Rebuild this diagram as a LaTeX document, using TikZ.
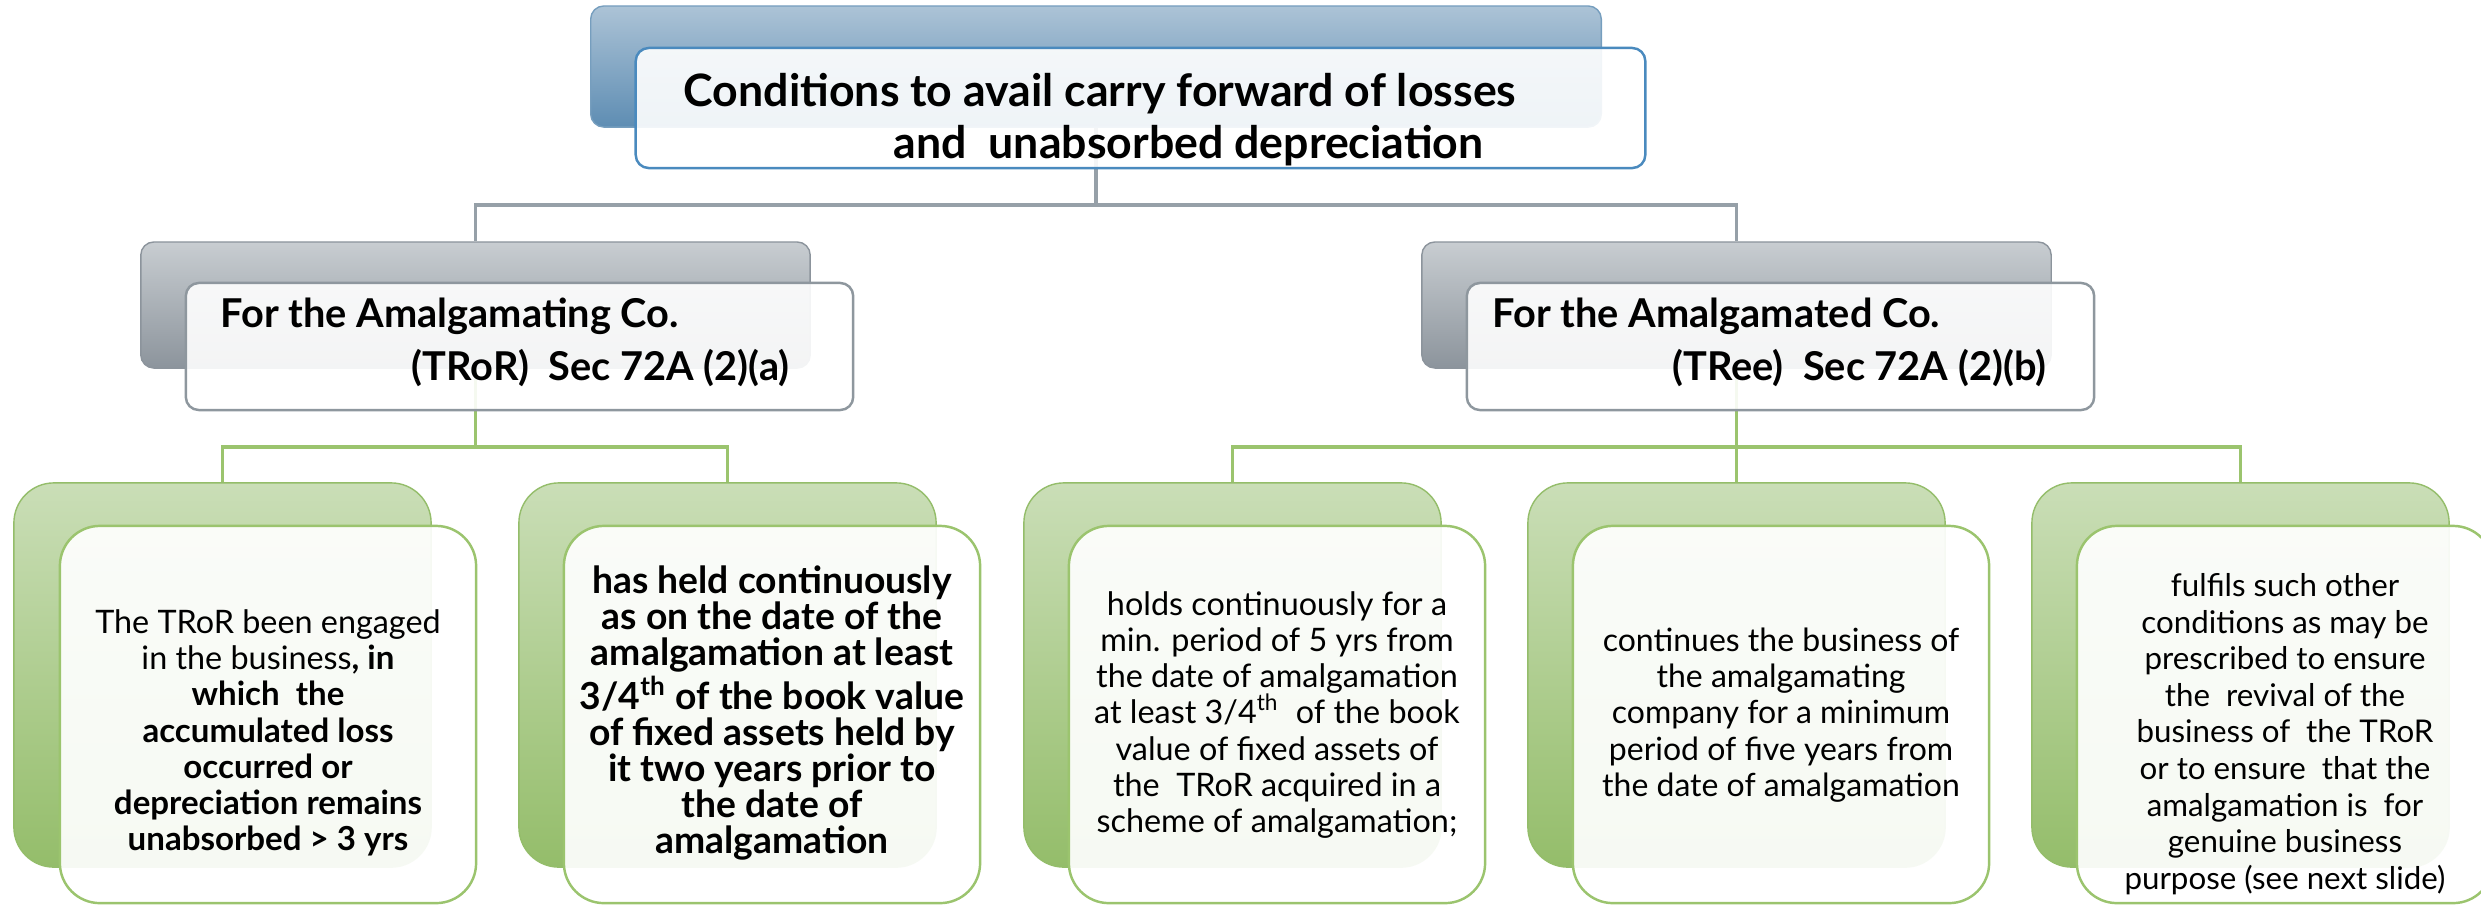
\documentclass[tikz,border=0pt]{standalone}
\usepackage{fontspec}
\setmainfont{Lato}
\definecolor{tbTop}{RGB}{172,195,214}
\definecolor{tbBot}{RGB}{94,141,179}
\definecolor{tbLine}{RGB}{74,138,190}
\definecolor{mbTop}{RGB}{200,205,209}
\definecolor{mbBot}{RGB}{140,148,156}
\definecolor{mbLine}{RGB}{142,151,158}
\definecolor{bbTop}{RGB}{202,222,183}
\definecolor{bbBot}{RGB}{148,189,106}
\definecolor{bbLine}{RGB}{155,196,110}
\definecolor{grayConn}{RGB}{150,160,168}
\definecolor{greenConn}{RGB}{155,196,110}
\tikzset{
  topback/.style={rectangle, rounded corners=0.13cm, top color=tbTop, bottom color=tbBot, draw=tbBot!85, line width=0.4pt, inner sep=0pt, minimum width=10.10cm, minimum height=1.21cm},
  topfront/.style={rectangle, rounded corners=0.13cm, fill=white, fill opacity=0.9, draw=tbLine, line width=0.7pt, inner sep=0pt, minimum width=10.09cm, minimum height=1.20cm},
  midback/.style={rectangle, rounded corners=0.13cm, top color=mbTop, bottom color=mbBot, draw=mbBot, line width=0.4pt, inner sep=0pt, minimum height=1.26cm},
  midfront/.style={rectangle, rounded corners=0.13cm, fill=white, fill opacity=0.9, draw=mbLine, line width=0.7pt, inner sep=0pt, minimum height=1.27cm},
  botback/.style={rectangle, rounded corners=0.4cm, top color=bbTop, bottom color=bbBot, draw=bbBot, line width=0.4pt, inner sep=0pt, minimum width=4.17cm, minimum height=3.84cm},
  botfront/.style={rectangle, rounded corners=0.4cm, fill=white, fill opacity=0.92, draw=bbLine, line width=0.7pt, inner sep=0pt, minimum width=4.16cm, minimum height=3.77cm},
  grayconn/.style={draw=grayConn, line width=1.1pt},
  greenconn/.style={draw=greenConn, line width=1.1pt},
  titletxt/.style={inner sep=0pt, font=\bfseries\fontsize{12.7}{15}\selectfont},
  midtxt/.style={inner sep=0pt, font=\bfseries\fontsize{11.3}{14}\selectfont},
  bodytxt/.style={inner sep=0pt, align=center, font=\fontsize{9.2}{10.3}\selectfont}
}
\newcommand{\bwords}[1]{{\fontsize{9.4}{10.3}\selectfont\bfseries #1}}
\begin{document}
\begin{tikzpicture}[x=0.01cm,y=-0.01cm]
\useasboundingbox (0,0) rectangle (2481,905);
% back boxes
\node[topback] (tb) at (1096,66.5) {};
\node[midback, minimum width=6.69cm] (mlb) at (475.5,305) {};
\node[midback, minimum width=6.29cm] (mrb) at (1736.5,305) {};
\node[botback] (b1b) at (222.5,675) {};
\node[botback] (b2b) at (727.5,675) {};
\node[botback] (b3b) at (1232.5,675) {};
\node[botback] (b4b) at (1736.5,675) {};
\node[botback] (b5b) at (2240.5,675) {};
% connectors
\coordinate (gy) at (0,205);
\coordinate (ly) at (0,447);
\draw[grayconn] (tb.south) -- (tb.south |- gy) -| (mlb.north);
\draw[grayconn] (tb.south |- gy) -| (mrb.north);
\draw[greenconn] (mlb.south) -- (mlb.south |- ly) -| (b1b.north);
\draw[greenconn] (mlb.south |- ly) -| (b2b.north);
\draw[greenconn] (mrb.south) -- (mrb.south |- ly) -| (b3b.north);
\draw[greenconn] (mrb.south |- ly) -| (b5b.north);
\draw[greenconn] (mrb.south |- ly) -- (b4b.north);
% front boxes
\node[topfront] (tf) at (1140.5,108) {};
\node[midfront, minimum width=6.67cm] (mlf) at (519.5,346.5) {};
\node[midfront, minimum width=6.27cm] (mrf) at (1780.5,346.5) {};
\node[botfront] (b1f) at (268,714.5) {};
\node[botfront] (b2f) at (772,714.5) {};
\node[botfront] (b3f) at (1277,714.5) {};
\node[botfront] (b4f) at (1781,714.5) {};
\node[botfront] (b5f) at (2285,714.5) {};
% texts
\node[titletxt, anchor=base west] (t1) at (683,106) {Conditions to avail carry forward of losses};
\node[titletxt, anchor=base west] (t2) at (893,158) {and\ \ unabsorbed depreciation};
\node[midtxt, anchor=base west] (ml1) at (220,327) {For the Amalgamating Co.};
\node[midtxt, anchor=base east] (ml2) at (790,380) {(TRoR)\ \ Sec 72A (2)(a)};
\node[midtxt, anchor=base west] (mr1) at (1492,327) {For the Amalgamated Co.};
\node[midtxt, anchor=base east] (mr2) at (2047,380) {(TRee)\ \ Sec 72A (2)(b)};
\node[bodytxt] (x1) at (b1f.center |- 0,733) {The TRoR been engaged\\in the business\bwords{, in}\\\bwords{which\ \ the}\\\bwords{accumulated loss}\\\bwords{occurred or}\\\bwords{depreciation remains}\\\bwords{unabsorbed > 3 yrs}};
\node[bodytxt, font=\bfseries\fontsize{10.6}{10.3}\selectfont] (x2) at (b2f.center |- 0,713) {has held continuously\\as on the date of the\\amalgamation at least\\3/4\textsuperscript{th} of the book value\\of fixed assets held by\\it two years prior to\\the date of\\amalgamation};
\node[bodytxt] (x3) at (b3f.center |- 0,715) {holds continuously for a\\min. period of 5 yrs from\\the date of amalgamation\\at least 3/4\textsuperscript{th}\ \ of the book\\value of fixed assets of\\the\ \ TRoR acquired in a\\scheme of amalgamation;};
\node[bodytxt, font=\fontsize{9.1}{10.3}\selectfont] (x4) at (b4f.center |- 0,715) {continues the business of\\the amalgamating\\company for a minimum\\period of five years from\\the date of amalgamation};
\node[bodytxt, font=\fontsize{8.9}{10.4}\selectfont] (x5) at (b5f.center |- 0,734) {fulfils such other\\conditions as may be\\prescribed to ensure\\the\ \ revival of the\\business of\ \ the TRoR\\or to ensure\ \ that the\\amalgamation is\ \ for\\genuine business\\purpose (see next slide)};
\end{tikzpicture}
\end{document}
